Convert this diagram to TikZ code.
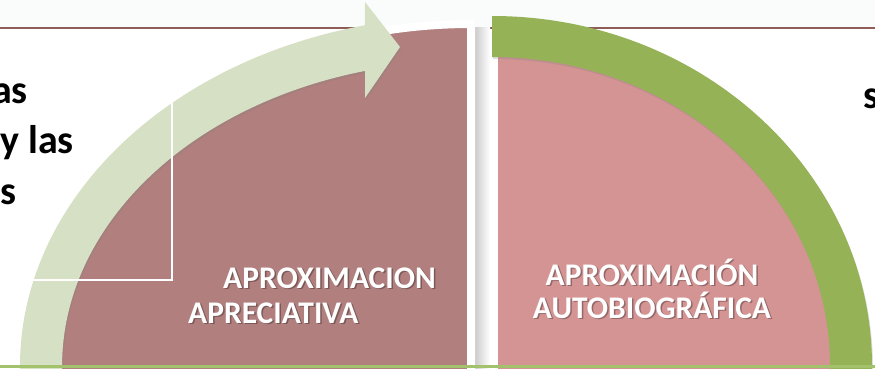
\documentclass[tikz,border=0pt]{standalone}
\usepackage{fontspec}
\setmainfont{Carlito}
\usetikzlibrary{shadows}
\definecolor{darkrose}{HTML}{B07F7E}
\definecolor{pinkr}{HTML}{D49494}
\definecolor{greenb}{HTML}{96B257}
\definecolor{lightg}{HTML}{D6E0C4}
\definecolor{topline}{HTML}{8E5D58}
\definecolor{botline}{HTML}{A3C26C}
\definecolor{topband}{HTML}{FAFCFB}
\begin{document}
\begin{tikzpicture}[x=1pt,y=1pt,
  blk/.style={font=\bfseries\fontsize{40}{44}\selectfont, text=black, inner sep=0pt},
  lbl/.style={font=\bfseries\fontsize{31.5}{34}\selectfont, text=white, inner sep=0pt},
  lblsh/.style={font=\bfseries\fontsize{31.5}{34}\selectfont, text=black, opacity=0.3, inner sep=0pt},
  softshadow/.style={drop shadow={opacity=0.25, shadow xshift=1pt, shadow yshift=-2pt}}]
\useasboundingbox (0,0) rectangle (875,368);
\clip (0,0) rectangle (875,368);
% top band and line
\fill[topband] (0,341) rectangle (875,368);
\draw[topline, line width=2pt] (0,340) -- (875,340);
% shadow in the gap
\shade[left color=black!20, right color=white] (475,-2) rectangle (490,341);
% left quarter shape
\path[fill=darkrose, draw=white, line width=8pt, line join=round]
  (471,-10) -- (471,344) arc[start angle=90, end angle=180, x radius=434pt, y radius=342pt] -- (37,-10) -- cycle;
% curved arrow
\fill[lightg, softshadow]
  (20,-10) -- (20,2) arc[start angle=180, end angle=103.2, x radius=447pt, y radius=350pt]
  -- (365,366) -- (400,321) -- (365,270) -- (365,297.1)
  arc[start angle=104.6, end angle=180, x radius=405pt, y radius=305pt] -- (62,-10) -- cycle;
% white L lines
\coordinate (w1) at (-2,88);
\coordinate (w2) at (172,88);
\coordinate (w3) at (172,270);
\draw[white, line width=1.5pt] (w1) -- (w2) -- (w3);
% right quarter shape
\fill[pinkr] (498,-10) -- (498,332) arc[start angle=90, end angle=0, x radius=355pt, y radius=330pt] -- (853,-10) -- cycle;
\fill[greenb, softshadow]
  (492,352) arc[start angle=90, end angle=0, x radius=380pt, y radius=350pt]
  -- (872,-10) -- (830,-10) -- (830,2)
  arc[start angle=0, end angle=90, x radius=338pt, y radius=309pt] -- cycle;
% bottom line
\draw[botline, line width=3pt] (0,1.5) -- (875,1.5);
% black text fragments
\node[blk, anchor=base east] (t1) at (28,265) {as};
\node[blk, anchor=base east] (t2) at (74,215) {y las};
\node[blk, anchor=base east] (t3) at (17,164) {s};
\node[blk, anchor=base west] (t4) at (863,260) {s};
% white labels with shadows
\node[lblsh, anchor=base west] (l1s) at (224.5,78.5) {APROXIMACION};
\node[lbl, anchor=base west] (l1) at (223,80) {APROXIMACION};
\node[lblsh, anchor=base west] (l2s) at (189.5,43.5) {APRECIATIVA};
\node[lbl, anchor=base west] (l2) at (188,45) {APRECIATIVA};
\node[lblsh, anchor=base] (r1s) at (653.5,81.5) {APROXIMACIÓN};
\node[lbl, anchor=base] (r1) at (652,83) {APROXIMACIÓN};
\node[lblsh, anchor=base] (r2s) at (653.5,48.5) {AUTOBIOGRÁFICA};
\node[lbl, anchor=base] (r2) at (652,50) {AUTOBIOGRÁFICA};
\end{tikzpicture}
\end{document}
